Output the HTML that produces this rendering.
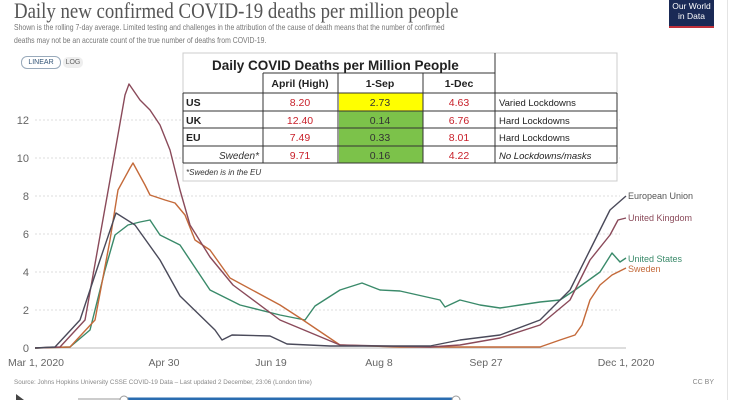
<!DOCTYPE html>
<html><head><meta charset="utf-8"><style>
body{margin:0;width:740px;height:400px;background:#fff;overflow:hidden;font-family:"Liberation Sans",sans-serif;position:relative}
.a{position:absolute}
</style></head><body>
<div class="a" style="left:14px;top:-2px;font-family:'Liberation Serif',serif;font-size:22px;color:#555;transform:scaleX(0.855);transform-origin:0 0;white-space:nowrap">Daily new confirmed COVID-19 deaths per million people</div>
<div class="a" style="left:14px;top:21px;font-size:8.4px;color:#777;line-height:13px;white-space:nowrap;transform:scaleX(0.82);transform-origin:0 0">Shown is the rolling 7-day average. Limited testing and challenges in the attribution of the cause of death means that the number of confirmed<br>deaths may not be an accurate count of the true number of deaths from COVID-19.</div>
<div class="a" style="left:669px;top:0;width:45px;height:25px;background:#1a2a56;border-bottom:2px solid #c0303a;color:#fff;font-size:8.5px;text-align:center;line-height:10px;padding-top:1px">Our World<br>in Data</div>
<div class="a" style="left:727px;top:0;width:1px;height:400px;background:#e4e4e4"></div>
<div class="a" style="left:21px;top:56px;width:38px;height:11px;border:1.5px solid #9ab;border-radius:6px;font-size:7px;color:#357;text-align:center;line-height:11px">LINEAR</div>
<div class="a" style="left:63px;top:57px;width:20px;height:11px;background:#eee;border-radius:5px;font-size:7px;color:#666;text-align:center;line-height:11px">LOG</div>
<svg class="a" style="left:0;top:0" width="740" height="400">
<g stroke="#ddd" stroke-dasharray="2,2">
<line x1="35" x2="620" y1="120" y2="120"/><line x1="35" x2="620" y1="158" y2="158"/><line x1="35" x2="620" y1="196" y2="196"/><line x1="35" x2="620" y1="234" y2="234"/><line x1="35" x2="620" y1="272" y2="272"/><line x1="35" x2="620" y1="310" y2="310"/>
</g>
<line x1="35" x2="626" y1="348" y2="348" stroke="#bbb"/>
<g font-size="11" fill="#666" text-anchor="end">
<text x="29" y="124">12</text><text x="29" y="162">10</text><text x="29" y="200">8</text><text x="29" y="238">6</text><text x="29" y="276">4</text><text x="29" y="314">2</text><text x="29" y="352">0</text>
</g>
<g font-size="10.5" fill="#666" text-anchor="middle">
<text x="36" y="366">Mar 1, 2020</text><text x="164" y="366">Apr 30</text><text x="271" y="366">Jun 19</text><text x="379" y="366">Aug 8</text><text x="486" y="366">Sep 27</text><text x="626" y="366">Dec 1, 2020</text>
</g>
<g fill="none" stroke-width="1.4" stroke-linejoin="round">
<polyline stroke="#3a8a6a" points="35,348 70,347 90,330 105,270 115,235 128,225 140,222 150,220 160,235 180,245 210,290 240,305 280,315 305,320 315,306 340,290 362,283 380,290 400,291 440,300 445,307 460,300 480,305 500,308 520,305 540,302 560,300 575,290 600,272 612,253 620,262 626,258"/>
<polyline stroke="#c46a3a" points="35,348 70,347 95,320 110,240 118,190 130,168 133,163 145,185 150,195 165,200 175,203 185,215 195,240 210,250 230,278 280,305 300,318 340,345 400,347 540,347 560,340 575,335 582,325 590,300 600,285 612,275 626,268"/>
<polyline stroke="#8a4a5a" points="35,348 60,347 85,320 110,180 125,95 129,84 140,100 150,110 160,125 170,150 180,190 190,225 210,257 233,285 280,320 340,345 430,347 460,345 500,338 540,325 570,300 590,260 610,235 618,220 626,218"/>
<polyline stroke="#4a4a5a" points="35,348 55,347 80,320 100,260 116,213 135,225 160,260 180,296 215,330 222,340 232,335 270,336 287,344 330,346 430,346 460,340 500,335 540,320 570,290 590,250 610,210 626,196"/>
</g>
<g font-size="9">
<text x="628" y="199" fill="#555">European Union</text>
<text x="628" y="221" fill="#8a4a5a">United Kingdom</text>
<text x="628" y="262" fill="#3a8a6a">United States</text>
<text x="628" y="272" fill="#c46a3a">Sweden</text>
</g>
<text x="14" y="384" font-size="6.3" fill="#888">Source: Johns Hopkins University CSSE COVID-19 Data – Last updated 2 December, 23:06 (London time)</text>
<text x="714" y="384" font-size="7" fill="#888" text-anchor="end">CC BY</text>
<polygon points="16,394 24,400 16,400" fill="#444"/>
<line x1="78" x2="124" y1="399" y2="399" stroke="#ccc" stroke-width="2"/>
<line x1="124" x2="456" y1="399" y2="399" stroke="#2a6cb0" stroke-width="3"/>
<circle cx="124" cy="400" r="4" fill="#fff" stroke="#999"/><circle cx="456" cy="400" r="4" fill="#fff" stroke="#999"/>
</svg>
<svg class="a" style="left:0;top:0" width="740" height="400" font-family="Liberation Sans,sans-serif">
<rect x="183" y="53" width="434" height="128" fill="#fff" stroke="#ccc"/>
<rect x="339" y="93" width="84" height="18" fill="#ffff00"/>
<rect x="339" y="111" width="84" height="52" fill="#7cc24a"/>
<g stroke="#333" stroke-width="1">
<line x1="263" y1="73" x2="495" y2="73"/><line x1="495" y1="53" x2="495" y2="93"/>
<line x1="183" y1="93" x2="617" y2="93"/><line x1="183" y1="111" x2="617" y2="111"/><line x1="183" y1="128" x2="617" y2="128"/><line x1="183" y1="146" x2="617" y2="146"/><line x1="183" y1="163" x2="617" y2="163"/>
<line x1="263" y1="73" x2="263" y2="163"/><line x1="338" y1="73" x2="338" y2="163"/><line x1="423" y1="73" x2="423" y2="163"/><line x1="495" y1="93" x2="495" y2="163"/>
<line x1="183" y1="93" x2="183" y2="163"/><line x1="617" y1="93" x2="617" y2="163"/>
</g>
<text x="212" y="70" font-size="13.5" font-weight="bold" fill="#222">Daily COVID Deaths per Million People</text>
<g font-size="10.5" font-weight="bold" fill="#222" text-anchor="middle">
<text x="300" y="87">April (High)</text><text x="380" y="87">1-Sep</text><text x="459" y="87">1-Dec</text>
</g>
<g font-size="10.5" font-weight="bold" fill="#222">
<text x="186" y="106">US</text><text x="186" y="124">UK</text><text x="186" y="141">EU</text>
</g>
<text x="259" y="159" font-size="10" font-style="italic" fill="#333" text-anchor="end">Sweden*</text>
<g font-size="10.5" fill="#c8202a" text-anchor="middle">
<text x="300" y="106">8.20</text><text x="300" y="124">12.40</text><text x="300" y="141">7.49</text><text x="300" y="159">9.71</text>
<text x="459" y="106">4.63</text><text x="459" y="124">6.76</text><text x="459" y="141">8.01</text><text x="459" y="159">4.22</text>
</g>
<g font-size="10.5" fill="#333" text-anchor="middle">
<text x="380" y="106">2.73</text><text x="380" y="124">0.14</text><text x="380" y="141">0.33</text><text x="380" y="159">0.16</text>
</g>
<g font-size="9.5" fill="#222">
<text x="499" y="106">Varied Lockdowns</text><text x="499" y="124">Hard Lockdowns</text><text x="499" y="141">Hard Lockdowns</text><text x="499" y="159" font-style="italic">No Lockdowns/masks</text>
</g>
<text x="186" y="175" font-size="8" font-style="italic" fill="#333">*Sweden is in the EU</text>
</svg>
</body></html>
